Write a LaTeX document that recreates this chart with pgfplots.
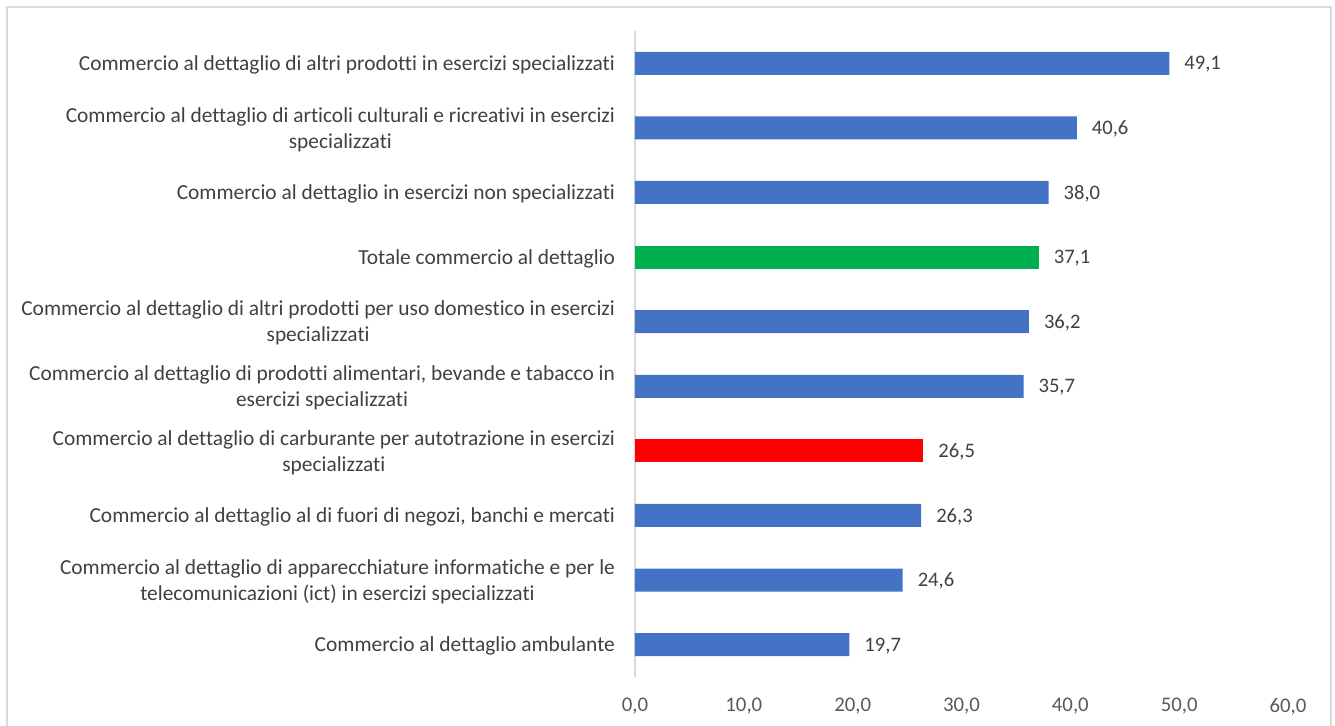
\documentclass[border=0pt]{standalone}
\usepackage{pgfplots}
\pgfplotsset{compat=1.18}
\usepackage{fontspec}
\setmainfont{Carlito}[Ligatures={NoCommon}]
\definecolor{cblue}{HTML}{4472C4}
\definecolor{cgreen}{HTML}{00B050}
\definecolor{cred}{HTML}{FF0000}
\definecolor{frame}{HTML}{D9D9D9}
\definecolor{txt}{HTML}{404040}
\definecolor{tick}{HTML}{595959}
\begin{document}
\begin{tikzpicture}
\useasboundingbox (0pt,0pt) rectangle (667.5pt,363pt);
\draw[frame,line width=0.9pt] (3.5pt,-5pt) -- (3.5pt,359.5pt) -- (665.5pt,359.5pt) -- (665.5pt,-5pt);
\begin{axis}[
  at={(317.5pt,24.5pt)}, anchor=south west,
  scale only axis, width=326.5pt, height=323pt,
  xmin=0, xmax=60, ymin=-0.5, ymax=9.5,
  xbar, bar width=11.5pt, bar shift=0pt,
  axis lines*=left,
  x axis line style={draw=none},
  y axis line style={draw=frame, line width=0.9pt},
  major tick length=0pt,
  xtick={0,10,...,60},
  ytick={0,...,9},
  /pgf/number format/fixed,
  /pgf/number format/fixed zerofill,
  /pgf/number format/precision=1,
  /pgf/number format/use comma,
  /pgf/number format/assume math mode=true,
  xticklabel style={font=\fontsize{10.4}{12}\selectfont, text=tick, yshift=-7pt},
  yticklabel style={font=\fontsize{10.7}{13}\selectfont, text=txt, align=center, xshift=-6.5pt, yshift=-0.8pt},
  yticklabels={
    {Commercio al dettaglio ambulante},
    {Commercio al dettaglio di apparecchiature informatiche e per le\\telecomunicazioni (ict) in esercizi specializzati},
    {Commercio al dettaglio al di fuori di negozi, banchi e mercati},
    {Commercio al dettaglio di carburante per autotrazione in esercizi\\specializzati},
    {Commercio al dettaglio di prodotti alimentari, bevande e tabacco in\\esercizi specializzati},
    {Commercio al dettaglio di altri prodotti per uso domestico in esercizi\\specializzati},
    {Totale commercio al dettaglio},
    {Commercio al dettaglio in esercizi non specializzati},
    {Commercio al dettaglio di articoli culturali e ricreativi in esercizi\\specializzati},
    {Commercio al dettaglio di altri prodotti in esercizi specializzati}
  },
  nodes near coords,
  nodes near coords style={font=\fontsize{10.3}{12}\selectfont, text=txt, xshift=4pt, yshift=-0.5pt},
  clip=false,
]
\addplot[fill=cblue, draw=none] coordinates {
  (19.7,0) (24.6,1) (26.3,2) (35.7,4) (36.2,5) (38.0,7) (40.6,8) (49.1,9)
};
\addplot[fill=cred, draw=none] coordinates {(26.5,3)};
\addplot[fill=cgreen, draw=none] coordinates {(37.1,6)};
\end{axis}
\end{tikzpicture}
\end{document}
